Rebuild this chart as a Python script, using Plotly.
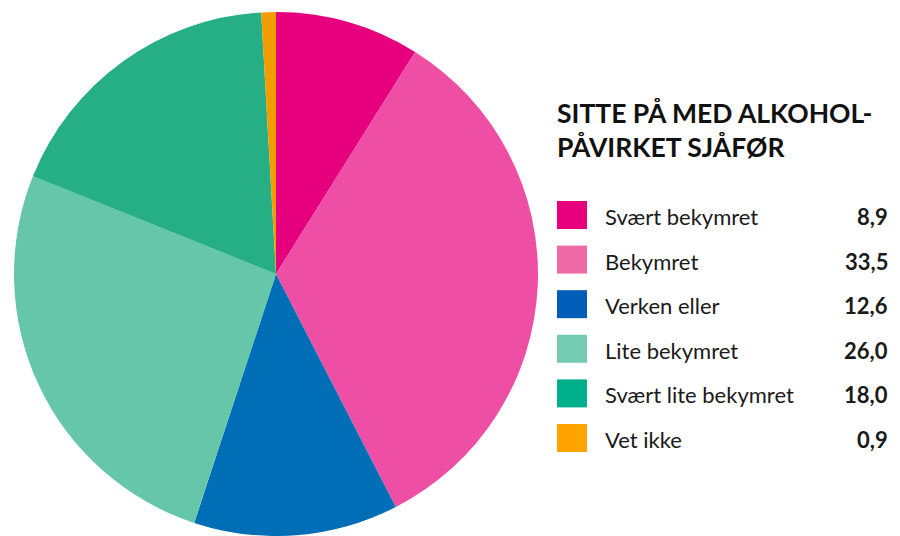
import plotly.graph_objects as go

categories = ["Svært bekymret", "Bekymret", "Verken eller", "Lite bekymret", "Svært lite bekymret", "Vet ikke"]
values = [8.9, 33.5, 12.6, 26.0, 18.0, 0.9]
value_labels = ["8,9", "33,5", "12,6", "26,0", "18,0", "0,9"]
pie_colors = ["#E6007E", "#EE4FA5", "#006EB6", "#66C6AA", "#26AE84", "#F39C00"]
legend_colors = ["#E6007E", "#EE6AA7", "#005EB8", "#73CBB2", "#00B08A", "#FFA300"]
title_text = "SITTE PÅ MED ALKOHOL-<br>PÅVIRKET SJÅFØR"

W, H = 900, 536
FONT = "Lato"

fig = go.Figure()
fig.add_trace(go.Pie(
    labels=categories, values=values, sort=False, direction="clockwise",
    rotation=0, marker=dict(colors=pie_colors, line=dict(width=0)),
    textinfo="none", hoverinfo="label+value", showlegend=False,
    domain=dict(x=[14/W, 538/W], y=[0.0, 524/H]),
))

shapes = []
annotations = []
y0 = 215
step = 44.6
for i, (cat, lab, col) in enumerate(zip(categories, value_labels, legend_colors)):
    yc = y0 + i * step
    shapes.append(dict(type="rect", xref="paper", yref="paper",
                       x0=557/W, x1=587/W, y0=1-(yc+14)/H, y1=1-(yc-14)/H,
                       fillcolor=col, line=dict(width=0)))
    annotations.append(dict(text=cat, xref="paper", yref="paper", x=603/W, y=1-(yc+1.5)/H,
                            xanchor="left", yanchor="middle", showarrow=False,
                            font=dict(family=FONT, size=22, color="#1a1a1a")))
    annotations.append(dict(text="<b>"+lab+"</b>", xref="paper", yref="paper", x=890/W, y=1-(yc+1.5)/H,
                            xanchor="right", yanchor="middle", showarrow=False,
                            font=dict(family=FONT, size=22, color="#1a1a1a")))

annotations.append(dict(text="<b>"+title_text+"</b>", xref="paper", yref="paper",
                        x=555/W, y=1-95/H, xanchor="left", yanchor="top", align="left",
                        showarrow=False, font=dict(family=FONT, size=26.5, color="#111111")))

fig.update_layout(width=W, height=H, margin=dict(l=0, r=0, t=0, b=0),
                  paper_bgcolor="white", plot_bgcolor="white",
                  shapes=shapes, annotations=annotations)
fig.write_html("out.html", config={"displayModeBar": False},
               post_script="document.body.style.margin='0';document.body.style.overflow='hidden';")
